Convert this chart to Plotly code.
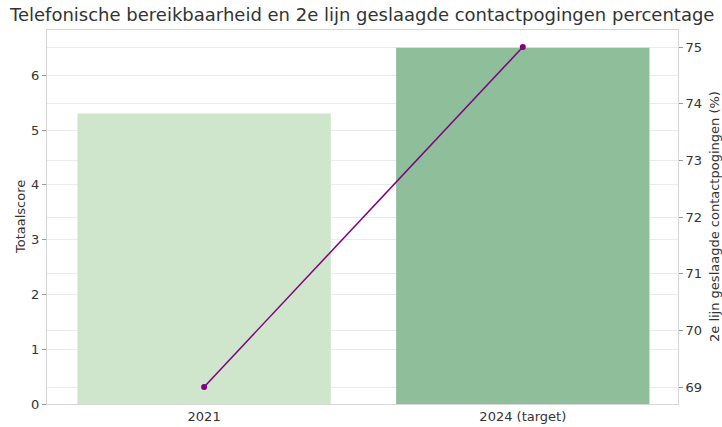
import plotly.graph_objects as go

categories = ["2021", "2024 (target)"]
totaalscore = [5.3, 6.5]
contact_pct = [69.0, 75.0]
bar_colors = ["#d0e6cc", "#8ebf9a"]

fig = go.Figure()
fig.add_trace(go.Bar(
    x=[0, 1], y=totaalscore, marker=dict(color=bar_colors, line=dict(width=0)),
    width=0.795, yaxis="y", showlegend=False,
))
fig.add_trace(go.Scatter(
    x=[0, 1], y=contact_pct, yaxis="y2", mode="lines+markers",
    line=dict(color="#800080", width=1.5), marker=dict(color="#800080", size=6),
    showlegend=False,
))

font_fam = "DejaVu Sans, sans-serif"
fig.update_layout(
    width=722, height=427,
    margin=dict(l=47, r=44, t=30, b=23, autoexpand=False),
    paper_bgcolor="white", plot_bgcolor="white",
    font=dict(family=font_fam, size=13, color="#333333"),
    title=dict(text="Telefonische bereikbaarheid en 2e lijn geslaagde contactpogingen percentage",
               x=10/722, xref="container", xanchor="left",
               y=1-15/427, yref="container", yanchor="middle",
               font=dict(size=18, color="#333333", family=font_fam)),
    xaxis=dict(range=[-0.493, 1.487], showgrid=False, zeroline=False, automargin=False,
               tickvals=[0, 1], ticktext=categories,
               showline=True, linecolor="#d6d6d6", linewidth=1, mirror=True,
               ticks="", tickfont=dict(size=13)),
    yaxis=dict(range=[0, 6.825], automargin=False,
               tickvals=[0, 1, 2, 3, 4, 5, 6], showgrid=True, gridcolor="#ebebeb", gridwidth=1,
               zeroline=False, showline=True, linecolor="#d6d6d6", linewidth=1, mirror=True,
               ticks="outside", ticklen=4, tickcolor="#999999", tickfont=dict(size=13)),
    yaxis2=dict(range=[68.7, 75.3], overlaying="y", side="right", automargin=False,
                tickvals=[69, 70, 71, 72, 73, 74, 75], showgrid=True, gridcolor="#ebebeb", gridwidth=1,
                zeroline=False, showline=False,
                ticks="outside", ticklen=4, tickcolor="#999999", tickfont=dict(size=13)),
    annotations=[
        dict(text="Totaalscore", xref="paper", yref="paper", x=-(47-20)/631, y=0.5,
             xanchor="center", yanchor="middle", textangle=-90, showarrow=False,
             font=dict(size=13, color="#333333")),
        dict(text="2e lijn geslaagde contactpogingen (%)", xref="paper", yref="paper",
             x=1+(714-678)/631, y=0.5, xanchor="center", yanchor="middle", textangle=-90,
             showarrow=False, font=dict(size=13, color="#333333")),
    ],
)

fig.write_html("out.html", config={"displayModeBar": False})
with open("out.html", encoding="utf-8") as f:
    html = f.read()
html = html.replace("<head>", "<head><style>html,body{margin:0;padding:0;overflow:hidden;}</style>", 1)
with open("out.html", "w", encoding="utf-8") as f:
    f.write(html)
